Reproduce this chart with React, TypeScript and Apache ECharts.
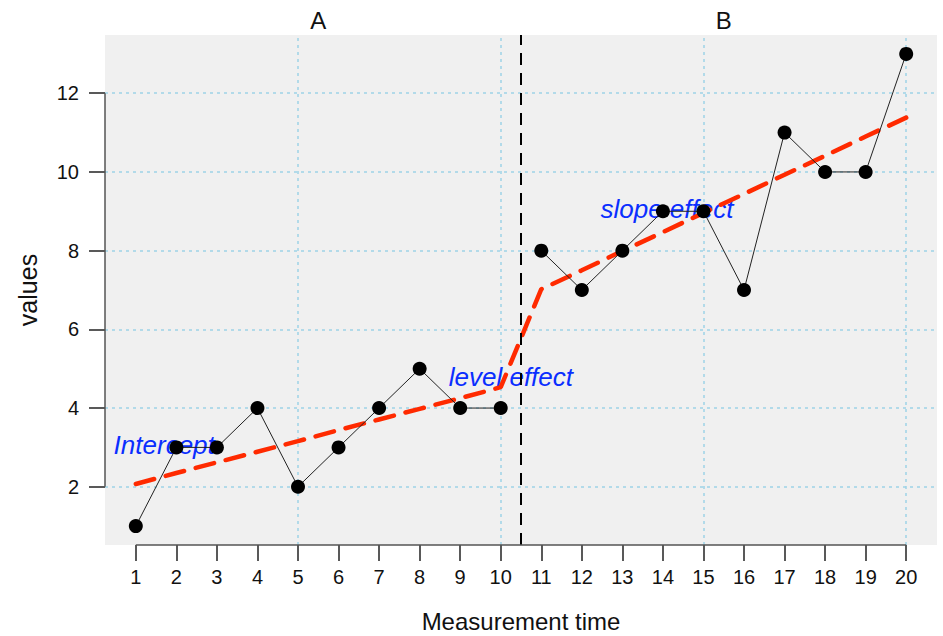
import React, { useEffect, useRef } from "react";
import * as echarts from "echarts";

const timesA = [1, 2, 3, 4, 5, 6, 7, 8, 9, 10];
const valuesA = [1, 3, 3, 4, 2, 3, 4, 5, 4, 4];
const timesB = [11, 12, 13, 14, 15, 16, 17, 18, 19, 20];
const valuesB = [8, 7, 8, 9, 9, 7, 11, 10, 10, 13];
const fitTimes = [1, 2, 3, 4, 5, 6, 7, 8, 9, 10, 11, 12, 13, 14, 15, 16, 17, 18, 19, 20];
const fitValues = [2.07, 2.35, 2.62, 2.89, 3.16, 3.44, 3.71, 3.98, 4.25, 4.53, 7.02, 7.5, 7.99, 8.47, 8.96, 9.44, 9.93, 10.41, 10.9, 11.38];
const xTickValues = [1, 2, 3, 4, 5, 6, 7, 8, 9, 10, 11, 12, 13, 14, 15, 16, 17, 18, 19, 20];
const yTickValues = [2, 4, 6, 8, 10, 12];
const xGridValues = [5, 10, 15, 20];
const phaseBreak = 10.5;
const phaseNames = ["A", "B"];
const phaseCenters = [5.5, 15.5];
const noteTexts = ["Intercept", "level effect", "slope effect"];
const noteX = [1.7, 10.25, 14.1];
const noteY = [3.05, 4.8, 9.05];
const xRange = [0.24, 20.76];
const yRange = [0.52, 13.48];

export default function App() {
  const ref = useRef<HTMLDivElement>(null);
  useEffect(() => {
    const chart = echarts.init(ref.current!, null, { renderer: "svg" });
    const font = "'Liberation Sans', Arial, Helvetica, sans-serif";
    const gridLine = { color: "#9dd2e6", width: 1.5, type: [3, 4] };
    chart.setOption({
      animation: false,
      grid: {
        left: 105, top: 35, right: 6, bottom: 91,
        show: true, backgroundColor: "#f0f0f0", borderWidth: 0,
      },
      xAxis: {
        type: "value", min: xRange[0], max: xRange[1],
        axisLine: { show: false }, splitLine: { show: false },
        axisTick: { show: true, customValues: xTickValues, length: 16, lineStyle: { color: "#222", width: 1.5 } },
        axisLabel: { customValues: xTickValues, fontSize: 20, color: "#111", fontFamily: font, margin: 22 },
      },
      yAxis: {
        type: "value", min: yRange[0], max: yRange[1],
        axisLine: { show: false }, splitLine: { show: false },
        axisTick: { show: true, customValues: yTickValues, length: 16, lineStyle: { color: "#222", width: 1.5 } },
        axisLabel: { customValues: yTickValues, fontSize: 20, color: "#111", fontFamily: font, margin: 26 },
      },
      series: [
        {
          type: "line", data: [], z: 1, silent: true,
          markLine: {
            z: 1, silent: true, symbol: ["none", "none"], label: { show: false },
            lineStyle: gridLine,
            data: [
              ...yTickValues.map((v) => ({ yAxis: v })),
              ...xGridValues.map((v) => ({ xAxis: v })),
            ],
          },
        },
        {
          type: "scatter", z: 2, silent: true, symbolSize: 0,
          itemStyle: { opacity: 1 },
          data: noteTexts.map((t, i) => ({ name: t, value: [noteX[i], noteY[i]] })),
          label: {
            show: true, position: "inside", formatter: "{b}", opacity: 1,
            fontSize: 26, fontStyle: "italic", color: "#0a2eff", fontFamily: font,
          },
        },
        {
          type: "line", z: 3, silent: true, symbol: "none",
          data: fitTimes.map((t, i) => [t, fitValues[i]]),
          lineStyle: { color: "#ff2a00", width: 4.5, type: [19, 12], cap: "round" },
        },
        {
          type: "line", z: 4, silent: true, symbol: "circle", symbolSize: 14,
          data: timesA.map((t, i) => [t, valuesA[i]]),
          itemStyle: { color: "#000" },
          lineStyle: { color: "#222", width: 1 },
        },
        {
          type: "line", z: 4, silent: true, symbol: "circle", symbolSize: 14,
          data: timesB.map((t, i) => [t, valuesB[i]]),
          itemStyle: { color: "#000" },
          lineStyle: { color: "#222", width: 1 },
        },
        {
          type: "line", data: [], z: 5, silent: true,
          markLine: {
            z: 5, silent: true, symbol: ["none", "none"], label: { show: false },
            lineStyle: { color: "#000", width: 2, type: [12, 8] },
            data: [{ xAxis: phaseBreak }],
          },
        },
      ],
    });

    const p = (x: number, y: number) => chart.convertToPixel({ gridIndex: 0 }, [x, y]) as number[];
    const yA = p(xRange[0], yTickValues[0]);
    const yB = p(xRange[0], yTickValues[yTickValues.length - 1]);
    const xA = p(xTickValues[0], yRange[0]);
    const xB = p(xTickValues[xTickValues.length - 1], yRange[0]);
    const topLeft = p(xRange[0], yRange[1]);
    const botRight = p(xRange[1], yRange[0]);
    const midX = (topLeft[0] + botRight[0]) / 2;
    const midY = (topLeft[1] + botRight[1]) / 2;

    chart.setOption({
      graphic: [
        { type: "line", shape: { x1: yA[0], y1: yA[1], x2: yB[0], y2: yB[1] }, style: { stroke: "#555", lineWidth: 1.5 }, z: 10 },
        { type: "line", shape: { x1: xA[0], y1: xA[1], x2: xB[0], y2: xB[1] }, style: { stroke: "#555", lineWidth: 1.5 }, z: 10 },
        ...phaseNames.map((n, i) => ({
          type: "text", x: p(phaseCenters[i], yRange[1])[0], y: 20,
          style: { text: n, fontSize: 24, fontFamily: font, fill: "#111", align: "center", verticalAlign: "middle" },
        })),
        {
          type: "text", x: midX, y: 621,
          style: { text: "Measurement time", fontSize: 24, fontFamily: font, fill: "#111", align: "center", verticalAlign: "middle" },
        },
        {
          type: "text", x: 28, y: midY, rotation: Math.PI / 2,
          style: { text: "values", fontSize: 25, fontFamily: font, fill: "#111", align: "center", verticalAlign: "middle" },
        },
      ],
    });
    return () => chart.dispose();
  }, []);
  return <div ref={ref} style={{ position: "absolute", left: 0, top: 0, width: 943, height: 636 }} />;
}
